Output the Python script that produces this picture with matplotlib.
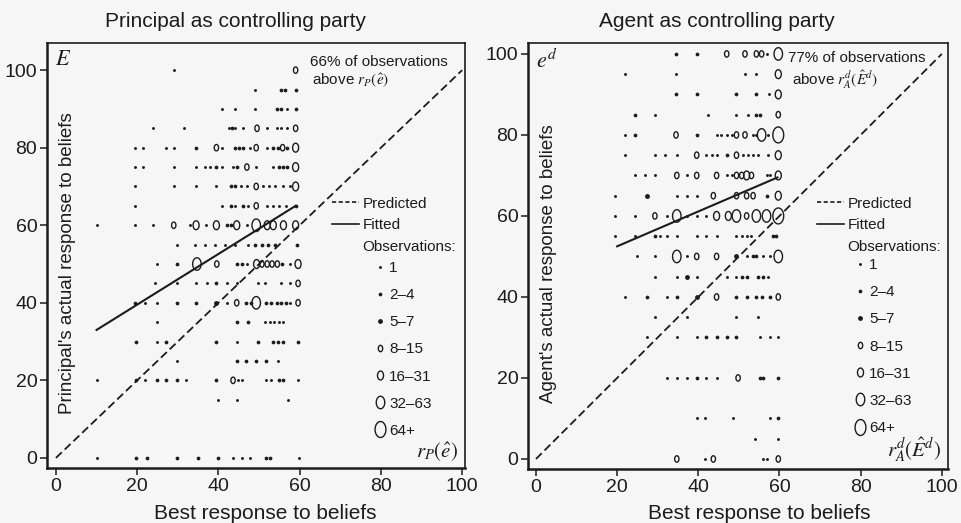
import numpy as np
import matplotlib
matplotlib.use("Agg")
import matplotlib.pyplot as plt
from matplotlib.path import Path
from matplotlib.lines import Line2D

plt.rcParams['font.family'] = ['Liberation Sans', 'DejaVu Sans']
plt.rcParams['mathtext.fontset'] = 'stix'

# size classes of the observation circles
size_labels = ['1', '2–4', '5–7', '8–15', '16–31', '32–63', '64+']

# (best response, actual response, size class) - principal as controlling party
principal_obs = [
    (29, 100, 0), (59, 100, 3),
    (49, 95, 0), (55.5, 95, 1), (56.3, 95, 1), (59, 95, 1),
    (41, 90, 0), (44, 90, 0), (49, 90, 0), (54.5, 90, 1), (55.3, 90, 1), (57, 90, 0), (59, 90, 1),
    (24, 85, 0), (31.5, 85, 0), (42.5, 85, 0), (43.3, 85, 1), (44, 85, 0), (46, 85, 0), (49.5, 85, 3),
    (52, 85, 0), (54.5, 85, 0), (55.3, 85, 0), (57, 85, 0), (59, 85, 3),
    (19.5, 80, 0), (21.5, 80, 0), (27, 80, 0), (29, 80, 0), (34.5, 80, 1), (39.5, 80, 3), (41, 80, 0),
    (44, 80, 1), (45, 80, 1), (46, 80, 1), (47.7, 80, 0), (49.3, 80, 3), (52, 80, 0), (53.5, 80, 1),
    (54.7, 80, 1), (55.8, 80, 3), (57, 80, 1), (59, 80, 4),
    (19.5, 75, 0), (21.5, 75, 0), (29, 75, 0), (34.5, 75, 0), (36.6, 75, 0), (38, 75, 0), (39.5, 75, 1),
    (41, 75, 0), (43.5, 75, 0), (44.5, 75, 1), (47, 75, 3), (49.3, 75, 0), (53.5, 75, 0), (55, 75, 1),
    (56, 75, 1), (57, 75, 1), (59, 75, 4),
    (19.5, 70, 0), (29, 70, 0), (34.5, 70, 0), (39.5, 70, 0), (43, 70, 1), (44, 70, 1), (45.5, 70, 0),
    (47, 70, 0), (49.3, 70, 3), (51, 70, 0), (52.5, 70, 0), (54, 70, 0), (56, 70, 0), (57.5, 70, 0), (59, 70, 4),
    (19.5, 65, 0), (41, 65, 0), (43, 65, 1), (44, 65, 0), (46, 65, 1), (47.3, 65, 0), (49.3, 65, 3),
    (52, 65, 0), (53.5, 65, 0), (55, 65, 0), (56.7, 65, 0), (59, 65, 1),
    (10, 60, 0), (19.5, 60, 0), (24, 60, 0), (29, 60, 3), (33, 60, 0), (34.5, 60, 4), (37, 60, 0),
    (39.5, 60, 4), (42, 60, 1), (43, 60, 1), (44.5, 60, 4), (47, 60, 0), (49.3, 60, 5), (52, 60, 4),
    (53.5, 60, 4), (56, 60, 4), (59, 60, 4),
    (29.7, 55, 0), (34.2, 55, 0), (36.7, 55, 0), (39.2, 55, 0), (41.6, 55, 0), (44.1, 55, 0), (47.3, 55, 0),
    (49, 55, 1), (50.7, 55, 1), (52.3, 55, 1), (54, 55, 1), (59.3, 55, 1),
    (24.8, 50, 0), (29.7, 50, 1), (34.7, 50, 5), (39.6, 50, 3), (44.5, 50, 1), (45.7, 50, 1), (47, 50, 0),
    (49.4, 50, 4), (50.7, 50, 3), (52, 50, 3), (53.2, 50, 3), (54.5, 50, 3), (55.7, 50, 1), (57.7, 50, 0),
    (59.6, 50, 4),
    (24.3, 45, 0), (29.7, 45, 0), (34.6, 45, 0), (37.1, 45, 0), (39.5, 45, 1), (42, 45, 0), (44.5, 45, 0),
    (49.8, 45, 0), (51.4, 45, 0), (55.5, 45, 0), (57.5, 45, 0), (59.6, 45, 3),
    (19.4, 40, 1), (21.9, 40, 0), (24.8, 40, 0), (29.7, 40, 1), (34.6, 40, 1), (39.5, 40, 2), (42, 40, 0),
    (44.5, 40, 3), (46.9, 40, 1), (48, 40, 1), (49.3, 40, 5), (51.8, 40, 1), (53, 40, 1), (54.3, 40, 1),
    (55.5, 40, 1), (56.7, 40, 1), (57.5, 40, 0), (59.6, 40, 3),
    (24.8, 35, 0), (44.5, 35, 1), (47.3, 35, 1), (51.4, 35, 0), (52.6, 35, 0), (53.8, 35, 0), (55, 35, 0),
    (56, 35, 0),
    (19.8, 30, 1), (24.8, 30, 0), (27.2, 30, 1), (39.5, 30, 1), (44.5, 30, 0), (49.8, 30, 1), (53.4, 30, 1),
    (54.7, 30, 1), (55.9, 30, 1), (59.6, 30, 1),
    (29.7, 25, 0), (44.5, 25, 1), (46.9, 25, 1), (49.3, 25, 1), (51.8, 25, 1), (54.7, 25, 0),
    (10, 20, 0), (19.8, 20, 1), (21.9, 20, 0), (24.8, 20, 1), (27.2, 20, 1), (29.7, 20, 1), (32.1, 20, 0),
    (39.5, 20, 1), (43.6, 20, 3), (44.8, 20, 0), (45.7, 20, 0), (51.8, 20, 0), (53, 20, 0), (55, 20, 1),
    (56, 20, 1), (59.6, 20, 0),
    (39.9, 15, 0), (44.6, 15, 0), (57.1, 15, 0),
    (10, 0, 0), (19.8, 0, 1), (22.3, 0, 1), (29.7, 0, 1), (35, 0, 1), (39.9, 0, 1), (43.6, 0, 0),
    (45.7, 0, 0), (47.7, 0, 0), (51.8, 0, 1), (52.6, 0, 1), (59.8, 0, 0),
]

# agent as controlling party
agent_obs = [
    (34.5, 100, 1), (39.6, 100, 1), (47, 100, 3), (51.5, 100, 3), (54.3, 100, 3), (55.6, 100, 3),
    (56.8, 100, 0), (59.7, 100, 5),
    (21.9, 95, 0), (34.5, 95, 0), (51.5, 95, 0), (54.3, 95, 0), (59.7, 95, 4),
    (34.5, 90, 1), (39.6, 90, 1), (49.4, 90, 1), (54.3, 90, 1), (57.4, 90, 0), (59.7, 90, 4),
    (24.4, 85, 1), (29.3, 85, 0), (42.4, 85, 0), (49.4, 85, 0), (52.3, 85, 0), (54.3, 85, 1), (55.2, 85, 1),
    (59.7, 85, 3),
    (21.9, 80, 0), (24.4, 80, 1), (34.5, 80, 3), (39.6, 80, 1), (44.5, 80, 0), (45.7, 80, 0), (47, 80, 0),
    (48.2, 80, 0), (49.4, 80, 3), (51.5, 80, 3), (53.5, 80, 0), (54.3, 80, 0), (55.6, 80, 5), (57.2, 80, 0),
    (59.7, 80, 6),
    (21.9, 75, 0), (29.3, 75, 0), (31.8, 75, 0), (34.7, 75, 0), (39.6, 75, 3), (42, 75, 0), (43.3, 75, 0),
    (44.5, 75, 0), (47, 75, 1), (49.4, 75, 3), (51.1, 75, 0), (52.3, 75, 0), (53.5, 75, 0), (54.8, 75, 0),
    (57.2, 75, 0), (59.7, 75, 4),
    (24.4, 70, 0), (26.8, 70, 0), (29.3, 70, 0), (34.7, 70, 3), (37.1, 70, 0), (39.6, 70, 3), (44.5, 70, 3),
    (47, 70, 0), (48.2, 70, 0), (49.4, 70, 3), (50.7, 70, 3), (51.9, 70, 4), (53.1, 70, 3), (56.8, 70, 0),
    (57.6, 70, 0), (59.7, 70, 4),
    (19.5, 65, 0), (27.3, 65, 2), (34.7, 65, 0), (37.1, 65, 0), (39.6, 65, 0), (43.7, 65, 3), (49.4, 65, 3),
    (51.9, 65, 3), (53.5, 65, 3), (56.8, 65, 1), (59.7, 65, 4),
    (19.5, 60, 0), (24.4, 60, 0), (29.3, 60, 3), (32.2, 60, 0), (34.7, 60, 5), (37.1, 60, 0), (39.6, 60, 0),
    (42, 60, 0), (44.5, 60, 4), (47.4, 60, 4), (49.4, 60, 5), (51.9, 60, 3), (54.3, 60, 5), (56.8, 60, 5),
    (59.7, 60, 6),
    (19.5, 55, 0), (24.4, 55, 0), (29.3, 55, 1), (30.5, 55, 0), (32.2, 55, 0), (34.7, 55, 0), (39.6, 55, 0),
    (42, 55, 0), (44.5, 55, 0), (49.4, 55, 0), (50.7, 55, 0), (51.9, 55, 0), (53.1, 55, 0), (58.4, 55, 1),
    (59.2, 55, 1),
    (24.8, 50, 0), (29.3, 50, 0), (34.7, 50, 5), (37.1, 50, 0), (39.6, 50, 3), (44.5, 50, 3), (49.4, 50, 2),
    (51.9, 50, 0), (53.5, 50, 1), (54.3, 50, 1), (56, 50, 0), (57.6, 50, 0), (59.7, 50, 5),
    (29.3, 45, 0), (34.7, 45, 0), (37.1, 45, 2), (39.6, 45, 0), (47, 45, 0), (49.4, 45, 0), (50.7, 45, 1),
    (51.9, 45, 1), (54.8, 45, 1), (56, 45, 1), (57.2, 45, 0),
    (21.9, 40, 0), (27.3, 40, 1), (32.2, 40, 0), (34.7, 40, 1), (39.6, 40, 2), (44.5, 40, 3), (49.4, 40, 1),
    (51.9, 40, 1), (54.3, 40, 1), (55.6, 40, 1), (57.6, 40, 1), (59.7, 40, 3),
    (29.3, 35, 0), (37.1, 35, 0), (49.4, 35, 0), (54.8, 35, 0),
    (27.3, 30, 0), (34.7, 30, 0), (39.6, 30, 0), (42, 30, 1), (44.5, 30, 1), (47, 30, 1), (49.4, 30, 1),
    (55.2, 30, 0), (57.6, 30, 0), (59.7, 30, 0),
    (32.2, 20, 0), (34.7, 20, 0), (37.1, 20, 0), (39.6, 20, 1), (42, 20, 0), (44.5, 20, 0), (49.8, 20, 3),
    (55.2, 20, 1), (56, 20, 1), (59.7, 20, 1),
    (39.6, 10, 0), (41.6, 10, 0), (48.6, 10, 0), (57.6, 10, 0), (59.7, 10, 1),
    (53.9, 5, 0), (59.7, 5, 0),
    (34.7, 0, 3), (41.6, 0, 0), (43.7, 0, 3), (56, 0, 0), (56.8, 0, 0), (59.7, 0, 3),
]

pred_x = [0, 100]
pred_y = [0, 100]
principal_fit_x = [10, 59]
principal_fit_y = [33, 65]
agent_fit_x = [20, 59.5]
agent_fit_y = [52.5, 69.5]

ink = '#1c1c1c'
bg = '#f6f6f6'

# vertically stretched ellipse used for the hollow markers
t = np.linspace(0, 2 * np.pi, 41)
ellipse = Path(np.column_stack([0.68 * np.cos(t), np.sin(t)]), closed=True)

marker_size = [2.1, 2.7, 3.5, 4.6, 6.4, 9.0, 11.5]   # points
is_filled = [True, True, True, False, False, False, False]


def draw_obs(ax, obs):
    arr = np.array(obs)
    for k in range(7):
        sel = arr[arr[:, 2] == k]
        if len(sel) == 0:
            continue
        if is_filled[k]:
            ax.scatter(sel[:, 0], sel[:, 1], s=marker_size[k] ** 2, marker='o',
                       c=ink, linewidths=0, zorder=3)
        else:
            ax.scatter(sel[:, 0], sel[:, 1], s=marker_size[k] ** 2, marker=ellipse,
                       facecolors='none', edgecolors=ink, linewidths=1.0, zorder=3)


def size_handles():
    hs = []
    for k in range(7):
        if is_filled[k]:
            hs.append(Line2D([], [], ls='none', marker='o', ms=marker_size[k],
                             mfc=ink, mec=ink, mew=0))
        else:
            hs.append(Line2D([], [], ls='none', marker=ellipse, ms=marker_size[k],
                             mfc='none', mec=ink, mew=1.0))
    return hs


def panel(ax, obs, fit_x, fit_y, xlim, ylim, ylab, corner, rlabel, note1, note2,
          leg1_pos, leg2_pos, note_x):
    ax.set_facecolor(bg)
    draw_obs(ax, obs)
    ax.plot(pred_x, pred_y, color=ink, lw=1.3, ls=(0, (4.5, 2.2)), zorder=4)
    ax.plot(fit_x, fit_y, color=ink, lw=1.5, zorder=4)
    ax.set_xlim(*xlim)
    ax.set_ylim(*ylim)
    ax.set_xticks([0, 20, 40, 60, 80, 100])
    ax.set_yticks([0, 20, 40, 60, 80, 100])
    ax.tick_params(labelsize=14, length=5, width=1.1, colors=ink, pad=2)
    for side in ['top', 'right']:
        ax.spines[side].set_linewidth(1.2)
    for side in ['left', 'bottom']:
        ax.spines[side].set_linewidth(1.8)
    for sp in ax.spines.values():
        sp.set_color(ink)

    ax.text(0.05, 0.482, ylab, transform=ax.transAxes, rotation=90,
            ha='center', va='center', fontsize=13.5, color=ink)
    ax.text(0.018, 0.985, corner, transform=ax.transAxes, ha='left', va='top',
            fontsize=16, color=ink)
    ax.text(0.983, 0.012, rlabel, transform=ax.transAxes, ha='right', va='bottom',
            fontsize=15, color=ink)
    ax.text(note_x[0], note_x[2], note1, transform=ax.transAxes, ha='left', va='center',
            fontsize=11, color=ink)
    ax.text(note_x[1], note_x[3], note2, transform=ax.transAxes, ha='left', va='center',
            fontsize=11, color=ink)

    h1 = [Line2D([], [], color=ink, lw=1.2, ls=(0, (2.5, 1.5))),
          Line2D([], [], color=ink, lw=1.2),
          Line2D([], [], ls='none')]
    leg1 = ax.legend(h1, ['Predicted', 'Fitted', 'Observations:'], loc='upper left',
                     bbox_to_anchor=leg1_pos, frameon=False, fontsize=11, handlelength=1.75,
                     handletextpad=0.25, borderpad=0, borderaxespad=0, labelspacing=0.5,
                     labelcolor=ink)
    ax.add_artist(leg1)
    ax.legend(size_handles(), size_labels, loc='upper left', bbox_to_anchor=leg2_pos,
              frameon=False, fontsize=11, handlelength=0.8, handletextpad=0.2,
              borderpad=0, borderaxespad=0, labelspacing=0.86, labelcolor=ink)


fig = plt.figure(figsize=(9.61, 5.23), dpi=100, facecolor=bg)
ax1 = fig.add_axes([0.0489, 0.1052, 0.435, 0.8126])
ax2 = fig.add_axes([0.5494, 0.1033, 0.437, 0.8145])

panel(ax1, principal_obs, principal_fit_x, principal_fit_y, (-2.2, 100.7), (-2.6, 107.0),
      "Principal's actual response to beliefs", '$E$', r'$r_P(\hat{e})$',
      '66% of observations', r'above $r_P(\hat{e})$',
      (0.682, 0.638), (0.782, 0.487), (0.629, 0.634, 0.955, 0.913))
panel(ax2, agent_obs, agent_fit_x, agent_fit_y, (-1.97, 101.5), (-2.47, 102.7),
      "Agent's actual response to beliefs", '$e^d$', r'$r_A^d(\hat{E}^d)$',
      '77% of observations', r'above $r_A^d(\hat{E}^d)$',
      (0.688, 0.639), (0.776, 0.495), (0.619, 0.629, 0.965, 0.913))

fig.text(0.245, 0.958, 'Principal as controlling party', ha='center', va='center',
         fontsize=15, color=ink)
fig.text(0.746, 0.958, 'Agent as controlling party', ha='center', va='center',
         fontsize=15, color=ink)
fig.text(0.276, 0.019, 'Best response to beliefs', ha='center', va='center',
         fontsize=15, color=ink)
fig.text(0.790, 0.019, 'Best response to beliefs', ha='center', va='center',
         fontsize=15, color=ink)

fig.savefig('out.png', dpi=100, facecolor=bg)
